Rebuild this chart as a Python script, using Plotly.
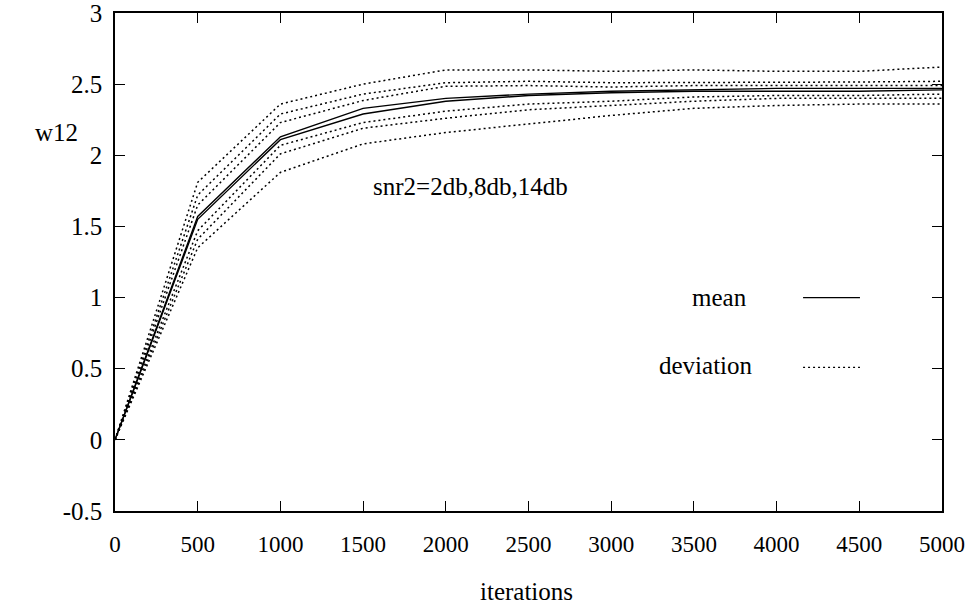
import plotly.graph_objects as go

# iteration count at which w12 was recorded
iterations = [0, 500, 1000, 1500, 2000, 2500, 3000, 3500, 4000, 4500, 5000]

# mean trajectories of w12
mean_a = [0, 1.57, 2.13, 2.33, 2.40, 2.43, 2.45, 2.46, 2.47, 2.47, 2.47]
mean_b = [0, 1.55, 2.11, 2.29, 2.38, 2.42, 2.44, 2.45, 2.45, 2.45, 2.46]

# mean +/- deviation bands for snr2 = 2db, 8db, 14db
dev_2db_hi = [0, 1.81, 2.36, 2.50, 2.60, 2.60, 2.59, 2.60, 2.59, 2.59, 2.62]
dev_8db_hi = [0, 1.72, 2.29, 2.43, 2.51, 2.52, 2.51, 2.51, 2.515, 2.515, 2.52]
dev_14db_hi = [0, 1.65, 2.23, 2.385, 2.485, 2.49, 2.48, 2.49, 2.49, 2.49, 2.49]
dev_14db_lo = [0, 1.47, 2.07, 2.23, 2.31, 2.36, 2.38, 2.41, 2.42, 2.42, 2.43]
dev_8db_lo = [0, 1.41, 2.01, 2.19, 2.26, 2.32, 2.35, 2.38, 2.40, 2.40, 2.40]
dev_2db_lo = [0, 1.35, 1.88, 2.08, 2.16, 2.22, 2.28, 2.33, 2.35, 2.36, 2.36]

x_ticks = [0, 500, 1000, 1500, 2000, 2500, 3000, 3500, 4000, 4500, 5000]
y_ticks = [-0.5, 0, 0.5, 1, 1.5, 2, 2.5, 3]

FONT = "Liberation Serif"
FS = 25
DOT = "2px,3px"

fig = go.Figure()

for ys in [dev_2db_hi, dev_8db_hi, dev_14db_hi, dev_14db_lo, dev_8db_lo, dev_2db_lo]:
    fig.add_trace(go.Scatter(x=iterations, y=ys, mode="lines",
                             line=dict(color="black", width=1.5, dash=DOT),
                             showlegend=False, hoverinfo="skip"))

for ys in [mean_a, mean_b]:
    fig.add_trace(go.Scatter(x=iterations, y=ys, mode="lines",
                             line=dict(color="black", width=1.4),
                             showlegend=False, hoverinfo="skip"))

# key: labels on the left, sample lines on the right
fig.add_trace(go.Scatter(x=[4160, 4504], y=[1.0, 1.0], mode="lines",
                         line=dict(color="black", width=1.3),
                         showlegend=False, hoverinfo="skip"))
fig.add_trace(go.Scatter(x=[4160, 4504], y=[0.51, 0.51], mode="lines",
                         line=dict(color="black", width=1.2, dash=DOT),
                         showlegend=False, hoverinfo="skip"))

txt_font = dict(family=FONT, size=FS, color="black")
annotations = [
    dict(x=2152, y=1.78, xref="x", yref="y", text="snr2=2db,8db,14db",
         xanchor="center", yanchor="middle", showarrow=False, font=txt_font),
    dict(x=3652, y=1.0, xref="x", yref="y", text="mean",
         xanchor="center", yanchor="middle", showarrow=False, font=txt_font),
    dict(x=3573, y=0.52, xref="x", yref="y", text="deviation",
         xanchor="center", yanchor="middle", showarrow=False, font=txt_font),
    dict(x=-0.071, y=0.761, xref="paper", yref="paper", text="w12",
         xanchor="center", yanchor="middle", showarrow=False, font=txt_font),
    dict(x=0.498, y=-0.161, xref="paper", yref="paper", text="iterations",
         xanchor="center", yanchor="middle", showarrow=False, font=txt_font),
]

axis_common = dict(
    showline=True, linecolor="black", linewidth=1.5, mirror="allticks",
    ticks="inside", ticklen=10, tickwidth=1.2, tickcolor="black",
    showgrid=False, zeroline=False, ticklabeloverflow="allow",
    automargin=False,
)

fig.update_layout(
    width=965, height=606,
    margin=dict(l=115, r=23, t=13, b=95),
    paper_bgcolor="white", plot_bgcolor="white",
    annotations=annotations,
    xaxis=dict(range=[0, 5000], tickvals=x_ticks,
               ticktext=[str(v) for v in x_ticks],
               tickfont=dict(family=FONT, size=23, color="black"),
               ticklabelstandoff=12, **axis_common),
    yaxis=dict(range=[-0.5, 3], tickvals=y_ticks,
               ticktext=[("%g" % v) for v in y_ticks],
               tickfont=dict(family=FONT, size=FS, color="black"),
               ticklabelstandoff=6, **axis_common),
)

fig.write_html("out.html")
